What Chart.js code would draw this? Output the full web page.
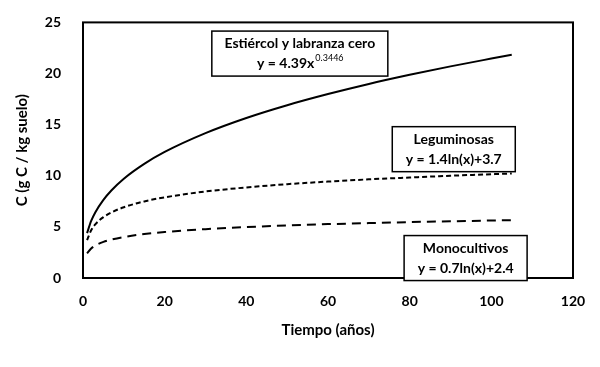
<!DOCTYPE html>
<html>
<head>
<meta charset="utf-8">
<script src="https://cdn.jsdelivr.net/npm/chart.js@4.4.0/dist/chart.umd.min.js"></script>
<style>
  html, body { margin: 0; padding: 0; background: #fff; }
  #wrap { width: 600px; height: 367px; }
</style>
</head>
<body>
<div id="wrap"><canvas id="chart-carbono"></canvas></div>
<script>
// years
var years = [1, 2, 3, 5, 7, 10, 15, 20, 30, 40, 50, 60, 70, 80, 90, 100, 105];
// C (g C / kg suelo)
var estiercol = [4.39, 5.58, 6.41, 7.64, 8.58, 9.71, 11.16, 12.33, 14.17, 15.65, 16.90, 17.99, 18.98, 19.87, 20.70, 21.46, 21.83];
var leguminosas = [3.70, 4.67, 5.24, 5.95, 6.42, 6.92, 7.49, 7.89, 8.46, 8.86, 9.18, 9.43, 9.65, 9.83, 10.00, 10.15, 10.22];
var monocultivos = [2.40, 2.89, 3.17, 3.53, 3.76, 4.01, 4.30, 4.50, 4.78, 4.98, 5.14, 5.27, 5.37, 5.47, 5.55, 5.62, 5.66];

var xTicks = [0, 20, 40, 60, 80, 100, 120];
var yTicks = [0, 5, 10, 15, 20, 25];

var FONT = "Lato, 'Open Sans', sans-serif";

function pts(ys) {
  return years.map(function (x, i) { return { x: x, y: ys[i] }; });
}

// label boxes: centre in data units, lines of text
var labelBoxes = [
  { x: 53.1, y: 21.95, w: 176, lines: ["Estiércol y labranza cero", ["y = 4.39x", "0.3446"]] },
  { x: 90.8, y: 12.6, w: 123, lines: ["Leguminosas", "y = 1.4ln(x)+3.7"] },
  { x: 93.7, y: 1.95, w: 123, lines: ["Monocultivos", "y = 0.7ln(x)+2.4"] }
];

var boxPlugin = {
  id: 'boxes',
  afterDatasetsDraw: function (chart) {
    var ctx = chart.ctx, a = chart.chartArea;
    var xs = chart.scales.x, ys = chart.scales.y;
    ctx.save();
    ctx.strokeStyle = '#000';
    ctx.lineWidth = 2;
    ctx.strokeRect(a.left, a.top, a.right - a.left, a.bottom - a.top);

    labelBoxes.forEach(function (b) {
      var cx = xs.getPixelForValue(b.x), cy = ys.getPixelForValue(b.y);
      var h = 45;
      ctx.fillStyle = '#fff';
      ctx.fillRect(cx - b.w / 2, cy - h / 2, b.w, h);
      ctx.lineWidth = 1.5;
      ctx.strokeRect(cx - b.w / 2, cy - h / 2, b.w, h);
      ctx.fillStyle = '#000';
      ctx.textBaseline = 'middle';
      b.lines.forEach(function (line, i) {
        var ly = cy - 10 + i * 20;
        if (Array.isArray(line)) {
          ctx.font = "bold 14px " + FONT;
          var w1 = ctx.measureText(line[0]).width;
          ctx.font = "9px " + FONT;
          var w2 = ctx.measureText(line[1]).width;
          var sx = cx - (w1 + w2) / 2;
          ctx.textAlign = 'left';
          ctx.font = "bold 14px " + FONT;
          ctx.fillText(line[0], sx, ly);
          ctx.font = "9px " + FONT;
          ctx.fillText(line[1], sx + w1 + 1, ly - 5);
        } else {
          ctx.font = "bold 14px " + FONT;
          ctx.textAlign = 'center';
          ctx.fillText(line, cx, ly);
        }
      });
    });
    ctx.restore();
  }
};

var ctx = document.getElementById('chart-carbono').getContext('2d');
var chart = new Chart(ctx, {
  type: 'line',
  data: {
    datasets: [{
      label: 'Estiércol y labranza cero',
      data: pts(estiercol),
      borderColor: '#000',
      borderWidth: 2,
      pointRadius: 0,
      cubicInterpolationMode: 'monotone'
    }, {
      label: 'Leguminosas',
      data: pts(leguminosas),
      borderColor: '#000',
      borderWidth: 2,
      borderDash: [5, 3],
      pointRadius: 0,
      cubicInterpolationMode: 'monotone'
    }, {
      label: 'Monocultivos',
      data: pts(monocultivos),
      borderColor: '#000',
      borderWidth: 2,
      borderDash: [9, 6],
      pointRadius: 0,
      cubicInterpolationMode: 'monotone'
    }]
  },
  options: {
    responsive: true,
    maintainAspectRatio: false,
    animation: false,
    layout: { padding: { top: 20, right: 27, left: 0, bottom: 0 } },
    plugins: {
      legend: { display: false },
      tooltip: { enabled: false }
    },
    scales: {
      x: {
        type: 'linear',
        min: 0,
        max: 120,
        afterBuildTicks: function (s) { s.ticks = xTicks.map(function (v) { return { value: v }; }); },
        afterFit: function (s) { s.height = 89; },
        grid: { display: false },
        border: { display: false },
        ticks: { color: '#000', padding: 7, font: { family: FONT, size: 14, weight: 'bold' } },
        title: {
          display: true,
          text: 'Tiempo (años)',
          color: '#000',
          padding: { top: 10, bottom: 28 },
          font: { family: FONT, size: 15, weight: 'bold' }
        }
      },
      y: {
        min: 0,
        max: 25,
        afterBuildTicks: function (s) { s.ticks = yTicks.map(function (v) { return { value: v }; }); },
        afterFit: function (s) { s.width = 83; },
        grid: { display: false },
        border: { display: false },
        ticks: { color: '#000', padding: 14, font: { family: FONT, size: 14, weight: 'bold' } },
        title: {
          display: true,
          text: 'C (g C / kg suelo)',
          color: '#000',
          padding: { top: 13, bottom: 4 },
          font: { family: FONT, size: 15, weight: 'bold' }
        }
      }
    }
  },
  plugins: [boxPlugin]
});
</script>
</body>
</html>
